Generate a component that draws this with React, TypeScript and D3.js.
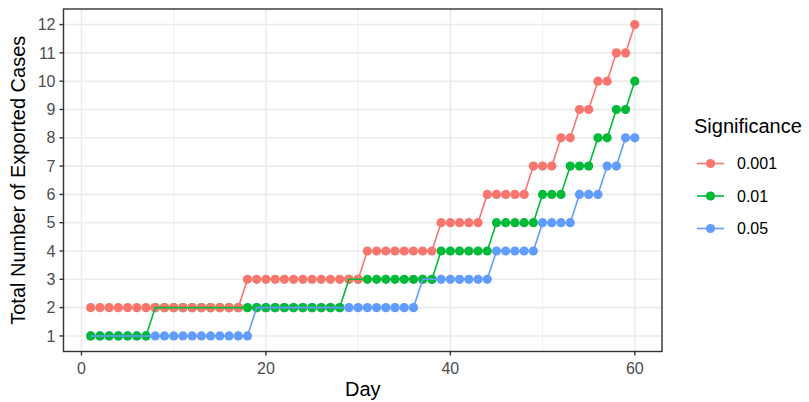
import React from "react";
import * as d3 from "d3";

const days: number[] = Array.from({ length: 60 }, (_, i) => i + 1);

const sig001: number[] = [
  2, 2, 2, 2, 2, 2, 2, 2, 2, 2, 2, 2, 2, 2, 2, 2, 2, 3, 3, 3,
  3, 3, 3, 3, 3, 3, 3, 3, 3, 3, 4, 4, 4, 4, 4, 4, 4, 4, 5, 5,
  5, 5, 5, 6, 6, 6, 6, 6, 7, 7, 7, 8, 8, 9, 9, 10, 10, 11, 11, 12,
];
const sig01: number[] = [
  1, 1, 1, 1, 1, 1, 1, 2, 2, 2, 2, 2, 2, 2, 2, 2, 2, 2, 2, 2,
  2, 2, 2, 2, 2, 2, 2, 2, 3, 3, 3, 3, 3, 3, 3, 3, 3, 3, 4, 4,
  4, 4, 4, 4, 5, 5, 5, 5, 5, 6, 6, 6, 7, 7, 7, 8, 8, 9, 9, 10,
];
const sig05: number[] = [
  1, 1, 1, 1, 1, 1, 1, 1, 1, 1, 1, 1, 1, 1, 1, 1, 1, 1, 2, 2,
  2, 2, 2, 2, 2, 2, 2, 2, 2, 2, 2, 2, 2, 2, 2, 2, 3, 3, 3, 3,
  3, 3, 3, 3, 4, 4, 4, 4, 4, 5, 5, 5, 5, 6, 6, 6, 7, 7, 8, 8,
];

const seriesNames: string[] = ["0.001", "0.01", "0.05"];
const seriesColors: string[] = ["#F8766D", "#00BA38", "#619CFF"];
const xTicks: number[] = [0, 20, 40, 60];
const xMinor: number[] = [10, 30, 50];
const yTicks: number[] = [1, 2, 3, 4, 5, 6, 7, 8, 9, 10, 11, 12];

const W = 809;
const H = 402;
const left = 63.5;
const right = 662;
const top = 9;
const bottom = 351.5;

export default function App() {
  const x = d3.scaleLinear().domain([1 - 2.95, 60 + 2.95]).range([left, right]);
  const y = d3.scaleLinear().domain([1 - 0.55, 12 + 0.55]).range([bottom, top]);
  const allSeries = [sig001, sig01, sig05];
  const line = d3
    .line<number>()
    .x((_, i) => x(days[i]))
    .y((v) => y(v));
  const font = "'Liberation Sans', Arial, Helvetica, sans-serif";
  const pointOrder = [2, 1, 0];
  const lineOrder = [0, 1, 2];

  return (
    <svg width={W} height={H} style={{ position: "absolute", left: 0, top: 0 }} fontFamily={font}>
      <rect x={0} y={0} width={W} height={H} fill="white" />
      <rect x={left} y={top} width={right - left} height={bottom - top} fill="white" />
      {xMinor.map((t) => (
        <line key={"xm" + t} x1={x(t)} x2={x(t)} y1={top} y2={bottom} stroke="#EBEBEB" strokeWidth={0.8} />
      ))}
      {xTicks.map((t) => (
        <line key={"xg" + t} x1={x(t)} x2={x(t)} y1={top} y2={bottom} stroke="#EBEBEB" strokeWidth={1.6} />
      ))}
      {yTicks.map((t) => (
        <line key={"yg" + t} x1={left} x2={right} y1={y(t)} y2={y(t)} stroke="#EBEBEB" strokeWidth={1.6} />
      ))}
      {pointOrder.map((si) =>
        allSeries[si].map((v, i) => (
          <circle key={"p" + si + "-" + i} cx={x(days[i])} cy={y(v)} r={4.6} fill={seriesColors[si]} />
        ))
      )}
      {lineOrder.map((si) => (
        <path key={"l" + si} d={line(allSeries[si]) || ""} fill="none" stroke={seriesColors[si]} strokeWidth={1.6} />
      ))}
      <rect x={left} y={top} width={right - left} height={bottom - top} fill="none" stroke="#333333" strokeWidth={1.4} />
      {xTicks.map((t) => (
        <g key={"xt" + t}>
          <line x1={x(t)} x2={x(t)} y1={bottom} y2={bottom + 4} stroke="#333333" strokeWidth={1.4} />
          <text x={x(t)} y={374} textAnchor="middle" fontSize={16} fill="#4D4D4D">
            {t}
          </text>
        </g>
      ))}
      {yTicks.map((t) => (
        <g key={"yt" + t}>
          <line x1={left - 4} x2={left} y1={y(t)} y2={y(t)} stroke="#333333" strokeWidth={1.4} />
          <text x={left - 8} y={y(t) + 5.7} textAnchor="end" fontSize={16} fill="#4D4D4D">
            {t}
          </text>
        </g>
      ))}
      <text x={(left + right) / 2} y={396} textAnchor="middle" fontSize={20} fill="black">
        Day
      </text>
      <text
        transform={`translate(25,${(top + bottom) / 2}) rotate(-90)`}
        textAnchor="middle"
        fontSize={20}
        fill="black"
      >
        Total Number of Exported Cases
      </text>
      <text x={694} y={133} fontSize={20} fill="black">
        Significance
      </text>
      {seriesNames.map((name, i) => {
        const cy = 163.5 + i * 32.5;
        return (
          <g key={"lg" + name}>
            <line x1={697} x2={724} y1={cy} y2={cy} stroke={seriesColors[i]} strokeWidth={1.6} />
            <circle cx={710.5} cy={cy} r={4.6} fill={seriesColors[i]} />
            <text x={737} y={cy + 5.7} fontSize={16} fill="black">
              {name}
            </text>
          </g>
        );
      })}
    </svg>
  );
}
